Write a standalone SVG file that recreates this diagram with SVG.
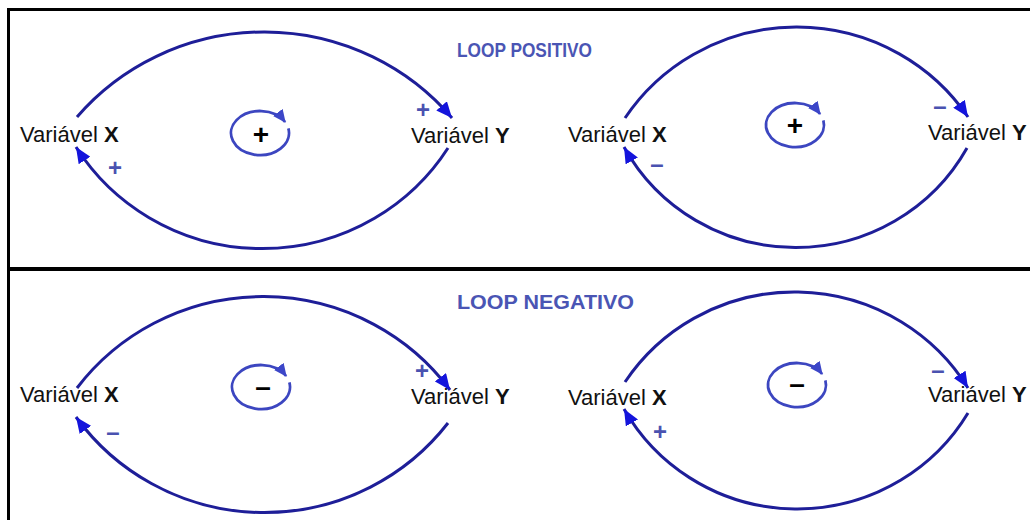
<svg xmlns="http://www.w3.org/2000/svg" width="1030" height="520" viewBox="0 0 1030 520">
  <style>
    .frame { stroke: #000; fill: none; }
    .arc { stroke: #1e1e98; stroke-width: 3; fill: none; }
    .loopc { stroke: #3c46c0; stroke-width: 2.8; fill: none; }
    .lbl { font-family: "Liberation Sans", Arial, sans-serif; font-size: 22px; fill: #111; }
    .lbl tspan.b { font-weight: bold; }
    .sign { font-family: "Liberation Sans", Arial, sans-serif; font-size: 24px; font-weight: bold; fill: #4a52b0; text-anchor: middle; }
    .csign { font-family: "Liberation Sans", Arial, sans-serif; font-size: 28px; font-weight: bold; fill: #000; text-anchor: middle; }
    .title { font-family: "Liberation Sans", Arial, sans-serif; font-size: 21px; font-weight: bold; fill: #4a55b4; }
  </style>
  <defs>
    <marker id="ah" markerUnits="userSpaceOnUse" markerWidth="18" markerHeight="14" refX="16" refY="7" orient="auto">
      <path d="M0,0 L16,7 L0,14 z" fill="#1414dc"/>
    </marker>
    <marker id="ahs" markerUnits="userSpaceOnUse" markerWidth="14" markerHeight="12" refX="12" refY="6" orient="auto">
      <path d="M0,0 L13,6 L0,12 z" fill="#3c46c8"/>
    </marker>
  </defs>
  <rect width="1030" height="520" fill="#fff"/>

  <g id="frame">
    <path class="frame" stroke-width="3" d="M8.5,525 V9.5 H1035"/>
    <line class="frame" stroke-width="4" x1="8" y1="269" x2="1035" y2="269"/>
  </g>

  <g id="titles">
    <text class="title" x="457" y="57" textLength="135" lengthAdjust="spacingAndGlyphs">LOOP POSITIVO</text>
    <text class="title" x="457" y="309" textLength="177" lengthAdjust="spacingAndGlyphs">LOOP NEGATIVO</text>
  </g>

  <g id="connectors">
    <path class="arc" d="M77,117 A245,240 0 0 1 452,118" marker-end="url(#ah)"/>
    <path class="arc" d="M448,148 A220,217 0 0 1 76,147" marker-end="url(#ah)"/>
    <path class="arc" d="M625,118 A206,203 0 0 1 968,117" marker-end="url(#ah)"/>
    <path class="arc" d="M967,148 A196,194 0 0 1 624,147" marker-end="url(#ah)"/>
    <path class="arc" d="M77,388 A232,228 0 0 1 450,390" marker-end="url(#ah)"/>
    <path class="arc" d="M448,423 A232,230 0 0 1 76,417" marker-end="url(#ah)"/>
    <path class="arc" d="M625,382 A203,200 0 0 1 968,388" marker-end="url(#ah)"/>
    <path class="arc" d="M968,413 A199,197 0 0 1 624,409" marker-end="url(#ah)"/>
  </g>

  <g id="polarity">
    <text class="sign" x="423" y="118">+</text>
    <text class="sign" x="115" y="176">+</text>
    <text class="sign" x="940" y="114">–</text>
    <text class="sign" x="657" y="172">–</text>
    <text class="sign" x="422" y="379">+</text>
    <text class="sign" x="113" y="440">–</text>
    <text class="sign" x="938" y="378">–</text>
    <text class="sign" x="660" y="440">+</text>
  </g>

  <g id="loop-tl">
    <path class="loopc" d="M288.37,128.43 A29,22 0 1 1 285.11,122" marker-end="url(#ahs)"/>
    <text class="csign" x="261" y="144">+</text>
  </g>
  <g id="loop-tr">
    <path class="loopc" d="M823.37,120.43 A29,22 0 1 1 820.11,114" marker-end="url(#ahs)"/>
    <text class="csign" x="795" y="135">+</text>
  </g>
  <g id="loop-bl">
    <path class="loopc" d="M289.37,382.43 A29,22 0 1 1 286.11,376" marker-end="url(#ahs)"/>
    <text class="csign" x="263" y="396">–</text>
  </g>
  <g id="loop-br">
    <path class="loopc" d="M825.37,380.43 A29,22 0 1 1 822.11,374" marker-end="url(#ahs)"/>
    <text class="csign" x="797" y="393">–</text>
  </g>

  <g id="node-tl-x"><text class="lbl" x="20" y="142">Variável <tspan class="b">X</tspan></text></g>
  <g id="node-tl-y"><text class="lbl" x="411" y="143">Variável <tspan class="b">Y</tspan></text></g>
  <g id="node-tr-x"><text class="lbl" x="568" y="142">Variável <tspan class="b">X</tspan></text></g>
  <g id="node-tr-y"><text class="lbl" x="928" y="140">Variável <tspan class="b">Y</tspan></text></g>
  <g id="node-bl-x"><text class="lbl" x="20" y="402">Variável <tspan class="b">X</tspan></text></g>
  <g id="node-bl-y"><text class="lbl" x="411" y="404">Variável <tspan class="b">Y</tspan></text></g>
  <g id="node-br-x"><text class="lbl" x="568" y="405">Variável <tspan class="b">X</tspan></text></g>
  <g id="node-br-y"><text class="lbl" x="928" y="402">Variável <tspan class="b">Y</tspan></text></g>
</svg>
